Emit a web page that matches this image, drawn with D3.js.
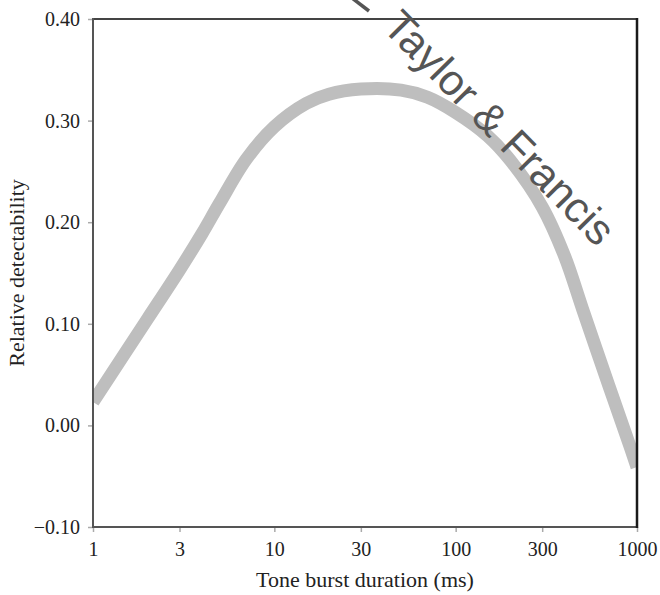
<!DOCTYPE html>
<html>
<head>
<meta charset="utf-8">
<script src="https://cdn.jsdelivr.net/npm/d3@7"></script>
<style>
  html, body { margin: 0; padding: 0; background: #fff; }
  svg { display: block; }
</style>
</head>
<body>
<svg id="chart" width="660" height="595"></svg>
<script>
// ---- data ----
const durations = [1, 1.5, 2, 3, 4, 5, 7, 10, 15, 20, 30, 50, 70, 100, 150, 200, 300, 400, 500, 700, 900, 1000];
const detectability = [0.023, 0.071, 0.105, 0.153, 0.189, 0.219, 0.262, 0.294, 0.317, 0.326, 0.331, 0.330, 0.323, 0.308, 0.285, 0.261, 0.215, 0.166, 0.115, 0.039, -0.017, -0.041];
const xTicks = [1, 3, 10, 30, 100, 300, 1000];
const yTicks = [-0.10, 0.00, 0.10, 0.20, 0.30, 0.40];
const xTitle = "Tone burst duration (ms)";
const yTitle = "Relative detectability";
const watermark = "Taylor & Francis";

// ---- layout ----
const W = 660, H = 595;
const m = { left: 93, right: 23, top: 19, bottom: 68 };
const x0 = m.left, x1 = W - m.right, y0 = m.top, y1 = H - m.bottom;

const svg = d3.select("#chart");

const x = d3.scaleLog().domain([1, 1000]).range([x0, x1]);
const y = d3.scaleLinear().domain([-0.10, 0.40]).range([y1, y0]);

const serif = "'Liberation Serif', 'Times New Roman', serif";

// clip for the curve
svg.append("defs").append("clipPath").attr("id", "plotclip")
  .append("rect").attr("x", x0).attr("y", y0).attr("width", x1 - x0).attr("height", y1 - y0);

// curve
const pts = durations.map((d, i) => [d, detectability[i]]);
const line = d3.line()
  .x(d => x(d[0]))
  .y(d => y(d[1]))
  .curve(d3.curveCatmullRom.alpha(0.5));

svg.append("path")
  .attr("clip-path", "url(#plotclip)")
  .attr("d", line(pts))
  .attr("fill", "none")
  .attr("stroke", "#bebebe")
  .attr("stroke-width", 13)
  .attr("stroke-linecap", "butt");

// axes (ticks outward, light grey)
const yAxis = d3.axisLeft(y).tickValues(yTicks)
  .tickFormat(d => (d < 0 ? "\u2212" : "") + Math.abs(d).toFixed(2))
  .tickSize(5).tickPadding(8);
const gy = svg.append("g").attr("transform", `translate(${x0},0)`).call(yAxis);
gy.select(".domain").remove();
gy.selectAll(".tick line").attr("stroke", "#aaa").attr("stroke-width", 1.5);
gy.selectAll(".tick text")
  .attr("font-family", serif).attr("font-size", 20).attr("fill", "#222");

const xAxis = d3.axisBottom(x).tickValues(xTicks)
  .tickFormat(d3.format("d"))
  .tickSize(5).tickPadding(10);
const gx = svg.append("g").attr("transform", `translate(0,${y1})`).call(xAxis);
gx.select(".domain").remove();
gx.selectAll(".tick line").attr("stroke", "#aaa").attr("stroke-width", 1.5);
gx.selectAll(".tick text")
  .attr("font-family", serif).attr("font-size", 20).attr("fill", "#222");

// frame
svg.append("line").attr("x1", x0).attr("x2", x1).attr("y1", y0).attr("y2", y0)
  .attr("stroke", "#444").attr("stroke-width", 2);
svg.append("line").attr("x1", x0).attr("x2", x1).attr("y1", y1).attr("y2", y1)
  .attr("stroke", "#555").attr("stroke-width", 2);
svg.append("line").attr("x1", x0).attr("x2", x0).attr("y1", y0 - 1).attr("y2", y1 + 1)
  .attr("stroke", "#555").attr("stroke-width", 2);
svg.append("line").attr("x1", x1).attr("x2", x1).attr("y1", y0 - 1).attr("y2", y1 + 1)
  .attr("stroke", "#1a1a1a").attr("stroke-width", 2.5);

// titles
svg.append("text")
  .attr("x", (x0 + x1) / 2).attr("y", 587)
  .attr("text-anchor", "middle")
  .attr("font-family", serif).attr("font-size", 22).attr("fill", "#222")
  .text(xTitle);

svg.append("text")
  .attr("transform", `translate(24,${(y0 + y1) / 2}) rotate(-90)`)
  .attr("text-anchor", "middle")
  .attr("font-family", serif).attr("font-size", 22).attr("fill", "#222")
  .text(yTitle);

// watermark (the fragment of the dash that is cut at the top edge, then the text)
svg.append("line")
  .attr("x1", 352).attr("y1", -2).attr("x2", 369).attr("y2", 11)
  .attr("stroke", "#555").attr("stroke-width", 3.5);
svg.append("text")
  .attr("transform", "translate(597,248) rotate(45.5)")
  .attr("text-anchor", "end")
  .attr("font-family", "'Liberation Sans', Arial, sans-serif")
  .attr("font-size", 43)
  .attr("fill", "#555")
  .text(watermark);
</script>
</body>
</html>
